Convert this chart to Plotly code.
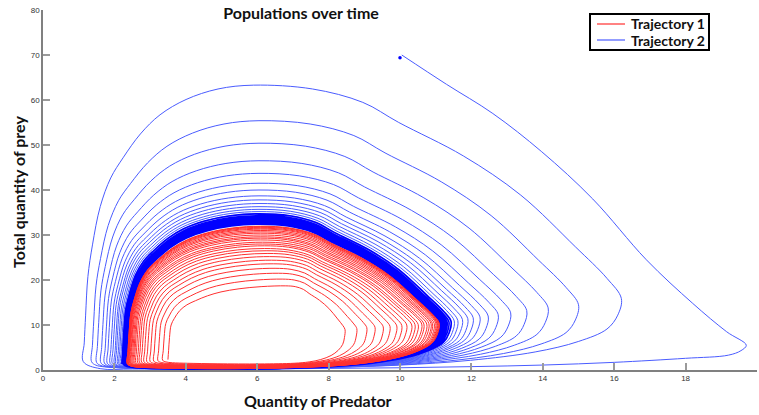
import plotly.graph_objects as go

# ---- shape of the limit cycle (predator x, prey y) ----
cycle_x = [2.35, 2.37, 2.40, 2.45, 2.55, 2.72, 2.95, 3.22, 3.60, 4.03, 4.60, 5.30, 6.08,
           6.90, 7.60, 8.10, 9.00, 9.80, 10.56, 11.00, 11.20, 11.15, 11.00, 10.60, 10.00,
           9.10, 8.10, 6.80, 5.30, 4.00, 3.10, 2.65, 2.45, 2.35]
cycle_y = [1.3, 4.0, 8.0, 12.7, 16.0, 20.0, 23.0, 25.1, 27.6, 29.6, 31.2, 32.3, 32.7,
           32.3, 30.9, 28.8, 25.3, 21.2, 15.8, 12.5, 10.4, 8.0, 6.0, 4.2, 2.7,
           1.5, 0.8, 0.4, 0.2, 0.25, 0.4, 0.55, 0.8, 1.3]

# ---- Trajectory 2 (blue): first descent from the starting point ----
start_x = [10.0]
start_y = [69.4]
seg_x = [10.05, 11.3, 12.6, 13.97, 15.4, 16.9, 18.2, 19.15, 19.7, 19.55, 19.2, 18.0,
         16.0, 14.0, 12.0, 10.0, 8.0, 6.0, 4.0, 2.5, 1.6]
seg_y = [70.0, 63.5, 57.0, 48.5, 38.0, 24.5, 14.8, 8.5, 5.5, 4.3, 3.3, 2.6,
         1.7, 1.1, 0.75, 0.5, 0.35, 0.25, 0.2, 0.22, 0.3]

# ---- Trajectory 2 (blue): successive loops (left x, peak x, peak y, right x, y at right, bottom y) ----
blue_xl = [1.13, 1.36, 1.50, 1.62, 1.72, 1.80, 1.88, 1.94, 2.00, 2.04, 2.09, 2.13, 2.17, 2.21,
           2.25, 2.28, 2.30, 2.32, 2.33, 2.34, 2.35, 2.36]
blue_xp = [5.90, 6.05, 6.05, 6.05, 6.05, 6.05, 6.05, 6.05, 6.05, 6.05, 6.05, 6.05, 6.05, 6.05,
           6.05, 6.05, 6.05, 6.05, 6.05, 6.05, 6.05, 6.05]
blue_yt = [63.3, 55.4, 50.4, 46.5, 43.7, 41.5, 40.0, 38.7, 37.8, 37.0, 36.3, 35.7, 35.2, 34.7,
           34.3, 34.0, 33.7, 33.4, 33.15, 32.9, 32.65, 32.4]
blue_xr = [16.2, 15.0, 14.15, 13.55, 13.1, 12.75, 12.47, 12.24, 12.05, 11.9, 11.75, 11.62, 11.52, 11.43,
           11.37, 11.32, 11.28, 11.24, 11.21, 11.18, 11.15, 11.12]
blue_yr = [15.9, 14.5, 13.8, 13.2, 12.7, 12.3, 12.0, 11.8, 11.6, 11.4, 11.2, 11.0, 10.9, 10.8,
           10.7, 10.65, 10.6, 10.55, 10.5, 10.45, 10.4, 10.4]
blue_yb = [0.15, 0.15, 0.15, 0.15, 0.15, 0.15, 0.15, 0.15, 0.15, 0.15, 0.15, 0.15, 0.15, 0.15,
           0.15, 0.15, 0.15, 0.15, 0.15, 0.15, 0.15, 0.15]
blue_thin_loops = 14   # loops drawn individually; the rest form the dense band

# ---- Trajectory 1 (red): successive loops growing outward ----
red_xl = [3.50, 3.35, 3.22, 3.10, 3.00, 2.91, 2.83, 2.76, 2.70, 2.65, 2.60, 2.56, 2.53,
          2.50, 2.47, 2.45, 2.43, 2.41, 2.40, 2.39, 2.38, 2.37, 2.37, 2.36, 2.36]
red_xp = [6.80, 6.70, 6.60, 6.50, 6.45, 6.40, 6.35, 6.30, 6.25, 6.20, 6.20, 6.15, 6.15,
          6.10, 6.10, 6.10, 6.10, 6.10, 6.10, 6.10, 6.10, 6.10, 6.10, 6.10, 6.10]
red_yt = [18.7, 20.2, 21.5, 22.6, 23.6, 24.4, 25.2, 25.9, 26.5, 27.0, 27.6, 28.0, 28.4,
          28.9, 29.3, 29.6, 30.0, 30.4, 30.7, 31.0, 31.3, 31.5, 31.7, 31.85, 31.95]
red_xr = [8.46, 8.79, 9.07, 9.30, 9.53, 9.72, 9.91, 10.05, 10.19, 10.33, 10.42, 10.51, 10.61,
          10.67, 10.75, 10.81, 10.87, 10.91, 10.96, 11.00, 11.03, 11.05, 11.07, 11.09, 11.10]
red_yr = [9.0, 9.2, 9.4, 9.5, 9.6, 9.7, 9.8, 9.9, 10.0, 10.0, 10.1, 10.1, 10.2,
          10.2, 10.2, 10.3, 10.3, 10.3, 10.3, 10.4, 10.4, 10.4, 10.4, 10.4, 10.4]
red_yb = [1.5, 1.35, 1.2, 1.1, 1.0, 0.9, 0.85, 0.8, 0.75, 0.7, 0.65, 0.6, 0.55,
          0.5, 0.5, 0.45, 0.45, 0.4, 0.4, 0.4, 0.35, 0.35, 0.35, 0.3, 0.3]

legend_labels = ["Trajectory 1", "Trajectory 2"]
legend_colors = ["#ff3030", "#4a5cff"]

# template reference values
T_xl = min(cycle_x)
T_xr = max(cycle_x)
peak_i = cycle_y.index(max(cycle_y))
T_xp = cycle_x[peak_i]
T_yt = cycle_y[peak_i]
T_yr = cycle_y[cycle_x.index(T_xr)]
T_yb = min(cycle_y)


def loop_points(xl, xp, yt, xr, yr, yb, xl_next, yb_next):
    xs, ys = [], []
    for i, (x, y) in enumerate(zip(cycle_x, cycle_y)):
        before = i <= peak_i
        l = xl if before else xl_next
        b = yb if before else yb_next
        if x <= T_xp:
            X = l + (x - T_xl) / (T_xp - T_xl) * (xp - l)
        else:
            X = xp + (x - T_xp) / (T_xr - T_xp) * (xr - xp)
        if y <= T_yr:
            Y = b + (y - T_yb) / (T_yr - T_yb) * (yr - b)
        else:
            Y = yr + (y - T_yr) / (T_yt - T_yr) * (yt - yr)
        xs.append(X)
        ys.append(Y)
    return xs, ys


def spiral(xl, xp, yt, xr, yr, yb, k0, k1):
    xs, ys = [], []
    n = len(xl)
    for k in range(k0, k1):
        kn = min(k + 1, n - 1)
        px, py = loop_points(xl[k], xp[k], yt[k], xr[k], yr[k], yb[k], xl[kn], yb[kn])
        if xs:
            px, py = px[1:], py[1:]
        xs += px
        ys += py
    return xs, ys


bx1, by1 = spiral(blue_xl, blue_xp, blue_yt, blue_xr, blue_yr, blue_yb, 0, blue_thin_loops)
bx1 = seg_x + bx1
by1 = seg_y + by1
bx2, by2 = spiral(blue_xl, blue_xp, blue_yt, blue_xr, blue_yr, blue_yb, blue_thin_loops - 1, len(blue_xl))
rx, ry = spiral(red_xl, red_xp, red_yt, red_xr, red_yr, red_yb, 0, len(red_xl))

fig = go.Figure()
fig.add_trace(go.Scatter(x=bx1, y=by1, mode="lines", name="Trajectory 2",
                         line=dict(color=legend_colors[1], width=1, shape="spline", smoothing=1.0)))
fig.add_trace(go.Scatter(x=bx2, y=by2, mode="lines", name="Trajectory 2 (band)",
                         line=dict(color="#0000ff", width=1.6, shape="spline", smoothing=1.0)))
fig.add_trace(go.Scatter(x=start_x, y=start_y, mode="markers", name="start",
                         marker=dict(color="#0000ff", size=3.5)))
fig.add_trace(go.Scatter(x=rx, y=ry, mode="lines", name="Trajectory 1",
                         line=dict(color=legend_colors[0], width=1, shape="spline", smoothing=1.0)))

axis_common = dict(showline=True, linecolor="#808080", linewidth=1.5, ticks="inside",
                   ticklen=7, tickwidth=1.5, tickcolor="#9a9a9a", showgrid=False, zeroline=False,
                   tickfont=dict(family="Liberation Sans", size=8, color="#333333"))

# legend box drawn in plot-area (paper) coordinates
PX0, PW, PY0, PH = 43, 714, 370, 360
def px(v):
    return (v - PX0) / PW
def py(v):
    return (PY0 - v) / PH

shapes = [dict(type="rect", xref="paper", yref="paper", x0=px(590), x1=px(709), y0=py(50), y1=py(14),
               line=dict(color="black", width=2), fillcolor="white", layer="above")]
annotations = []
for i, (lab, col) in enumerate(zip(legend_labels, legend_colors)):
    yy = 24 + 16 * i
    shapes.append(dict(type="line", xref="paper", yref="paper", x0=px(597), x1=px(625),
                       y0=py(yy), y1=py(yy), line=dict(color=col, width=1.2), layer="above"))
    annotations.append(dict(text="<b>" + lab + "</b>", xref="paper", yref="paper",
                            x=px(629), y=py(yy), xanchor="left", yanchor="middle", showarrow=False,
                            font=dict(family="Lato", size=14, color="#111111")))

annotations += [
    dict(text="<b>Quantity of Predator</b>", xref="paper", yref="paper",
         x=px(318), y=py(400), xanchor="center", yanchor="middle",
         showarrow=False, font=dict(family="Lato", size=16, color="#111111")),
    dict(text="<b>Total quantity of prey</b>", xref="paper", yref="paper",
         x=px(18), y=py(192), xanchor="center", yanchor="middle",
         textangle=-90, showarrow=False, font=dict(family="Lato", size=16, color="#111111")),
]

fig.update_layout(
    width=759, height=415,
    margin=dict(l=43, r=2, t=10, b=45),
    paper_bgcolor="white", plot_bgcolor="white",
    title=dict(text="<b>Populations over time</b>", x=301 / 759, xanchor="center",
               y=1 - 13 / 415, yanchor="middle",
               font=dict(family="Lato", size=16, color="#111111")),
    xaxis=dict(range=[0, 20], dtick=2, **axis_common),
    yaxis=dict(range=[0, 80], dtick=10, **axis_common),
    showlegend=False,
    shapes=shapes,
    annotations=annotations,
)

fig.write_html("out.html")
